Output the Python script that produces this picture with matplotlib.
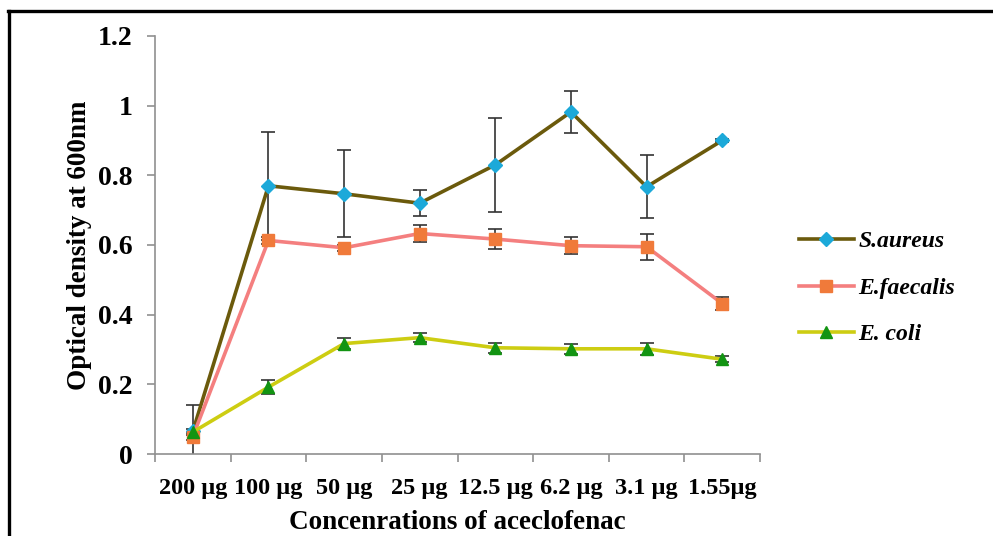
from matplotlib import pyplot as plt
from matplotlib.lines import Line2D
import numpy as np

doses = ["200 µg", "100 µg", "50 µg", "25 µg", "12.5 µg", "6.2 µg", "3.1 µg", "1.55µg"]

saureus =     [0.065, 0.770, 0.747, 0.720, 0.830, 0.982, 0.767, 0.900]
saureus_err = [0.075, 0.155, 0.125, 0.037, 0.135, 0.060, 0.090, 0.005]

faecalis =     [0.050, 0.613, 0.592, 0.633, 0.617, 0.598, 0.595, 0.432]
faecalis_err = [0.010, 0.010, 0.008, 0.025, 0.028, 0.025, 0.037, 0.020]

ecoli =     [0.063, 0.192, 0.317, 0.334, 0.305, 0.302, 0.302, 0.272]
ecoli_err = [0.008, 0.020, 0.016, 0.013, 0.014, 0.014, 0.017, 0.008]

plt.rcParams['font.family'] = ['Liberation Serif', 'DejaVu Serif']
plt.rcParams['font.weight'] = 'bold'

fig = plt.figure(figsize=(9.93, 5.36), dpi=100)
ax = fig.add_axes([155/993, 1 - 454/536, (760 - 155)/993, (454 - 36)/536])

x = np.arange(len(doses))
err_kw = dict(ecolor="#333333", elinewidth=1.2, capsize=5, capthick=1.2)

ax.errorbar(x, saureus, yerr=saureus_err, color="#6b5a0c", linewidth=2.6,
            marker="D", markersize=7, markerfacecolor="#1ca9d9",
            markeredgecolor="#1ca9d9", label="S.aureus", **err_kw)
ax.errorbar(x, faecalis, yerr=faecalis_err, color="#f47f7f", linewidth=2.6,
            marker="s", markersize=8, markerfacecolor="#f07a3a",
            markeredgecolor="#f07a3a", label="E.faecalis", **err_kw)
ax.errorbar(x, ecoli, yerr=ecoli_err, color="#cdcd12", linewidth=2.6,
            marker="^", markersize=8, markerfacecolor="#129412",
            markeredgecolor="#129412", label="E. coli", **err_kw)

ax.set_xlim(-0.5, len(doses) - 0.5)
ax.set_ylim(0, 1.2)
ax.set_yticks([0, 0.2, 0.4, 0.6, 0.8, 1.0, 1.2])
ax.set_yticklabels(["0", "0.2", "0.4", "0.6", "0.8", "1", "1.2"], fontsize=20, fontweight="bold")

ax.set_xticks(np.arange(-0.5, len(doses)), labels=[])
ax.set_xticks(x, minor=True)
ax.set_xticklabels(doses, minor=True, fontsize=17.5, fontweight="bold")
ax.tick_params(axis="x", which="minor", length=0, pad=17)
ax.tick_params(axis="x", which="major", length=6, color="#909090", width=1.2)
ax.tick_params(axis="y", length=6, color="#909090", width=1.2, pad=10)

for s in ["top", "right"]:
    ax.spines[s].set_visible(False)
for s in ["left", "bottom"]:
    ax.spines[s].set_color("#909090")
    ax.spines[s].set_linewidth(1.2)

ax.set_ylabel("Optical density at 600nm", fontsize=19.5, fontweight="bold", labelpad=4)
ax.set_xlabel("Concenrations of aceclofenac", fontsize=19.5, fontweight="bold", labelpad=8)

handles, labels = ax.get_legend_handles_labels()
handles = [h[0] for h in handles]
leg = fig.legend(handles, labels, loc="center left", bbox_to_anchor=(778/993, 1 - 288/536),
                 frameon=False, prop={"size": 17, "weight": "bold", "style": "italic"},
                 handlelength=2.3, handletextpad=0.2, labelspacing=1.05)

# frame around the figure (only top and left edges visible in the crop)
fig.add_artist(Line2D([8/993, 1], [1 - 11/536, 1 - 11/536], color="black", linewidth=2.4))
fig.add_artist(Line2D([9/993, 9/993], [0, 1 - 11/536], color="black", linewidth=2.4))

fig.savefig("out.png", dpi=100)
